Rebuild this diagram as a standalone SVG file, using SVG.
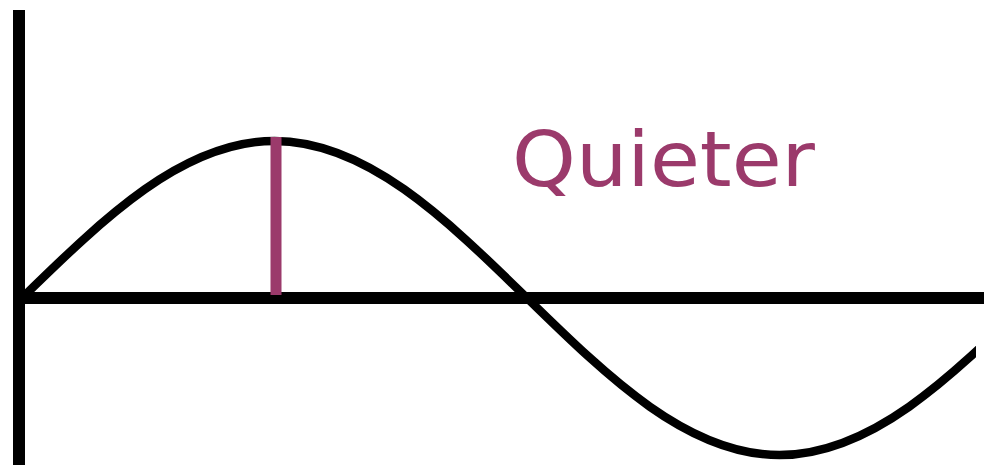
<svg xmlns="http://www.w3.org/2000/svg" width="984" height="465" viewBox="0 0 984 465">
<style>
.axis{stroke:#000;stroke-width:12;fill:none}
.wave{stroke:#000;stroke-width:8.5;fill:none}
.amp{stroke:#9b3a6b;stroke-width:11;fill:none}
.lbl{font-family:"DejaVu Sans","Open Sans",sans-serif;font-size:76px;fill:#9b3a6b}
</style>
<defs><clipPath id="c"><rect x="0" y="0" width="976" height="465"/></clipPath></defs>
<rect width="984" height="465" fill="#fff"/>
<g id="connectors">
<line id="y-axis" class="axis" x1="19" y1="10" x2="19" y2="465"/>
<line id="x-axis" class="axis" x1="19" y1="298" x2="984" y2="298"/>
<path id="wave" class="wave" clip-path="url(#c)" d="M22,298 C104.35,217.57 183.12,141 274.5,141 C365.88,141 444.65,217.57 527,298 C609.35,378.43 688.12,455 779.5,455 C870.88,455 949.65,378.43 1032,298"/>
<line id="amplitude" class="amp" x1="276" y1="137" x2="276" y2="295"/>
</g>
<g id="label"><text class="lbl" x="512" y="186" textLength="303" lengthAdjust="spacingAndGlyphs">Quieter</text></g>
</svg>
